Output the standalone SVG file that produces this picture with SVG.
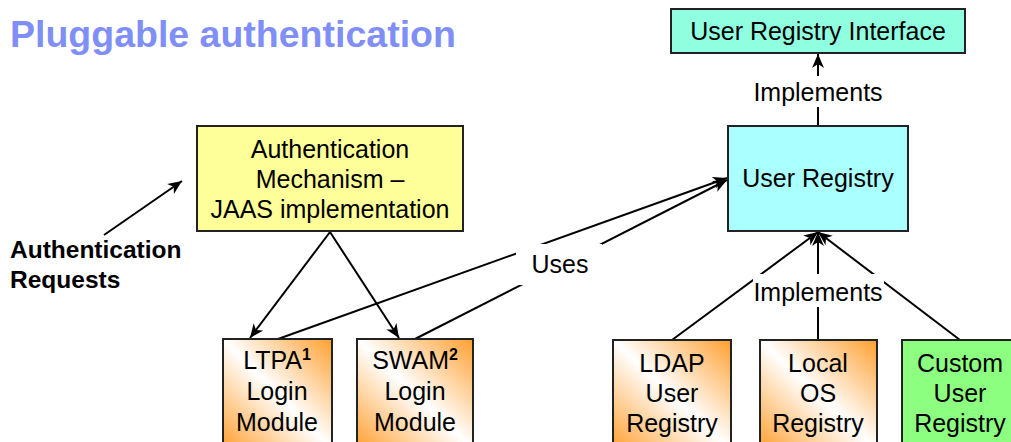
<svg xmlns="http://www.w3.org/2000/svg" width="1011" height="442" viewBox="0 0 1011 442">
<defs>
<linearGradient id="og" x1="1" y1="0" x2="0" y2="1">
<stop offset="0" stop-color="#ff9f2f"/>
<stop offset="0.5" stop-color="#ffffff"/>
<stop offset="1" stop-color="#ff9f2f"/>
</linearGradient>
<marker id="ah" markerUnits="userSpaceOnUse" markerWidth="15" markerHeight="12" refX="14" refY="6" orient="auto" overflow="visible">
<path d="M0,0 L14,6 L0,12 L4,6 z" fill="#000"/>
</marker>
<style>
.box{stroke:#222;stroke-width:2}
.t{font-family:"Liberation Sans",Arial,sans-serif;font-size:25px;fill:#000;text-anchor:middle}
.c{stroke:#000;stroke-width:2;fill:none}
.a{marker-end:url(#ah)}
.sup{font-weight:bold;font-size:16px}
</style>
</defs>
<rect width="1011" height="442" fill="#fff"/>
<text x="10" y="47" font-family="Liberation Sans, Arial, sans-serif" font-size="37.5" font-weight="bold" fill="#7f8ff7">Pluggable authentication</text>
<text font-family="Liberation Sans, Arial, sans-serif" font-size="24.5" font-weight="bold" fill="#000"><tspan x="10" y="258">Authentication</tspan><tspan x="10" y="288">Requests</tspan></text>

<g id="connectors">
<line class="c a" x1="104" y1="235" x2="182" y2="181"/>
<line class="c a" x1="330" y1="232" x2="250" y2="338"/>
<line class="c a" x1="330" y1="232" x2="399" y2="338"/>
<line class="c a" x1="278" y1="339" x2="727" y2="178"/>
<line class="c a" x1="415" y1="339" x2="727" y2="180"/>
<line class="c a" x1="818" y1="126" x2="818" y2="54"/>
<line class="c a" x1="672" y1="340" x2="818" y2="232"/>
<line class="c a" x1="818" y1="340" x2="818" y2="232"/>
<line class="c a" x1="960" y1="340" x2="818" y2="232"/>
<rect x="516" y="244" width="86" height="41" fill="#fff"/>
<text class="t" x="560" y="273">Uses</text>
<rect x="758" y="76" width="120" height="31" fill="#fff"/>
<text class="t" x="818" y="101">Implements</text>
<rect x="753" y="274" width="131" height="33" fill="#fff"/>
<text class="t" x="818" y="301">Implements</text>
</g>

<g id="auth-mechanism">
<rect class="box" x="197" y="126" width="266" height="105" fill="#ffff99"/>
<text class="t"><tspan x="330" y="158">Authentication</tspan><tspan x="330" y="188">Mechanism –</tspan><tspan x="330" y="218">JAAS implementation</tspan></text>
</g>
<g id="user-registry-interface">
<rect class="box" x="671" y="9" width="294" height="44" fill="#90ffe0"/>
<text class="t" x="818" y="40">User Registry Interface</text>
</g>
<g id="user-registry">
<rect class="box" x="728" y="126" width="180" height="105" fill="#aaffff"/>
<text class="t" x="818" y="187">User Registry</text>
</g>
<g id="ltpa">
<rect class="box" x="223" y="339" width="109" height="110" fill="url(#og)"/>
<text class="t"><tspan x="277" y="369">LTPA<tspan class="sup" dy="-9">1</tspan></tspan><tspan x="277" y="400">Login</tspan><tspan x="277" y="431">Module</tspan></text>
</g>
<g id="swam">
<rect class="box" x="357" y="339" width="116" height="110" fill="url(#og)"/>
<text class="t"><tspan x="415" y="369">SWAM<tspan class="sup" dy="-9">2</tspan></tspan><tspan x="415" y="400">Login</tspan><tspan x="415" y="431">Module</tspan></text>
</g>
<g id="ldap">
<rect class="box" x="613" y="340" width="118" height="110" fill="url(#og)"/>
<text class="t"><tspan x="672" y="372">LDAP</tspan><tspan x="672" y="402">User</tspan><tspan x="672" y="432">Registry</tspan></text>
</g>
<g id="local-os">
<rect class="box" x="760" y="340" width="117" height="110" fill="url(#og)"/>
<text class="t"><tspan x="818" y="372">Local</tspan><tspan x="818" y="402">OS</tspan><tspan x="818" y="432">Registry</tspan></text>
</g>
<g id="custom">
<rect class="box" x="902" y="340" width="116" height="110" fill="#8cff80"/>
<text class="t"><tspan x="960" y="372">Custom</tspan><tspan x="960" y="402">User</tspan><tspan x="960" y="432">Registry</tspan></text>
</g>
</svg>
